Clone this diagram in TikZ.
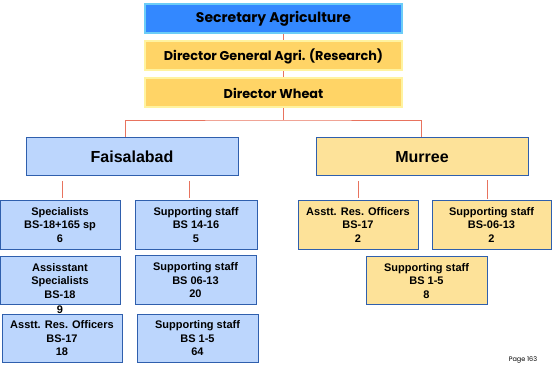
\documentclass[tikz,border=0pt]{standalone}
\usepackage{fontspec}
\setmainfont{Liberation Sans}
\newfontfamily\topfont{Poppins}
\usetikzlibrary{positioning,calc,backgrounds}

\definecolor{secblue}{HTML}{3388FF}
\definecolor{secrim}{HTML}{6CCDF7}
\definecolor{topgold}{HTML}{FFD466}
\definecolor{toprim}{HTML}{FFF3A0}
\definecolor{fsdblue}{HTML}{BCD6FD}
\definecolor{murgold}{HTML}{FDE299}
\definecolor{boxrim}{HTML}{2F5FAD}
\definecolor{linkred}{HTML}{E8735E}

\begin{document}
\begin{tikzpicture}[
    x=1pt, y=-1pt,
    topbox/.style={draw=toprim, line width=2pt, fill=topgold, minimum width=257pt, minimum height=29pt, font=\topfont\bfseries\fontsize{12.8}{14}\selectfont, inner sep=0pt},
    station/.style={draw=boxrim, line width=1pt, minimum width=212pt, minimum height=38pt, font=\bfseries\fontsize{16}{18}\selectfont, inner sep=0pt},
    staff/.style={draw=boxrim, line width=1pt, minimum width=120pt, minimum height=49pt, align=center, font=\bfseries\fontsize{11}{13.5}\selectfont, inner sep=0pt},
    link/.style={draw=linkred, line width=0.9pt}
]
\useasboundingbox (0,0) rectangle (552,366);

\node[topbox, fill=secblue, draw=secrim, font=\topfont\bfseries\fontsize{14}{16}\selectfont] (sec) at (273.5,19) {Secretary Agriculture};
\node[topbox] (dg) at (273.5,56) {Director General Agri. (Research)};
\node[topbox] (dw) at (273.5,93) {Director Wheat};
\coordinate (hub) at (283,120);

\node[station, fill=fsdblue] (fsd) at (132,156.5) {Faisalabad};
\node[station, fill=murgold] (mur) at (422,157) {Murree};

\node[staff, fill=fsdblue] (spec) at (60,225) {Specialists\\BS-18+165 sp\\6};
\node[staff, fill=fsdblue, minimum width=122pt] (sup1) at (196,225) {Supporting staff\\BS 14-16\\5};
\node[staff, fill=fsdblue, minimum height=48pt] (asp) at (60,281) {Assisstant\\Specialists\\BS-18};
\node[font=\bfseries\fontsize{11}{13.5}\selectfont, inner sep=0pt] (asp9) at (60,310) {9};
\node[staff, fill=fsdblue, minimum width=121pt] (sup2) at (195.5,280.5) {Supporting staff\\BS 06-13\\20};
\node[staff, fill=fsdblue, minimum height=47pt] (aro) at (62,338.5) {Asstt. Res. Officers\\BS-17\\18};
\node[staff, fill=fsdblue, minimum width=121pt, minimum height=47pt] (sup3) at (197.5,338.5) {Supporting staff\\BS 1-5\\64};

\node[staff, fill=murgold] (mro) at (358,225) {Asstt. Res. Officers\\BS-17\\2};
\node[staff, fill=murgold, minimum width=119pt] (msup1) at (491.5,225) {Supporting staff\\BS-06-13\\2};
\node[staff, fill=murgold, minimum width=121pt, minimum height=48pt] (msup2) at (426.5,281) {Supporting staff\\BS 1-5\\8};

\node[font=\topfont\fontsize{6.5}{8}\selectfont, inner sep=0pt] (page) at (523,360) {Page 163};

\begin{scope}[on background layer]
\draw[link] (sec.south -| hub) -- (hub);
\draw[link] ([xshift=-7pt]fsd.north) |- (hub) -| ([xshift=-1pt]mur.north);
\end{scope}
\draw[link] ([yshift=-5pt]fsd.south -| spec.north) ++(2,0) -- ([xshift=2pt,yshift=2pt]spec.north);
\draw[link] ([yshift=-5pt]fsd.south -| sup1.north) ++(-7,0) -- ([xshift=-7pt,yshift=2pt]sup1.north);
\draw[link] ([yshift=-5pt]mur.south -| mro.north) -- ([yshift=2pt]mro.north);
\draw[link] ([yshift=-4pt]mur.south -| msup1.north) ++(-4.5,0) -- ([xshift=-4.5pt,yshift=1pt]msup1.north);
\end{tikzpicture}
\end{document}
